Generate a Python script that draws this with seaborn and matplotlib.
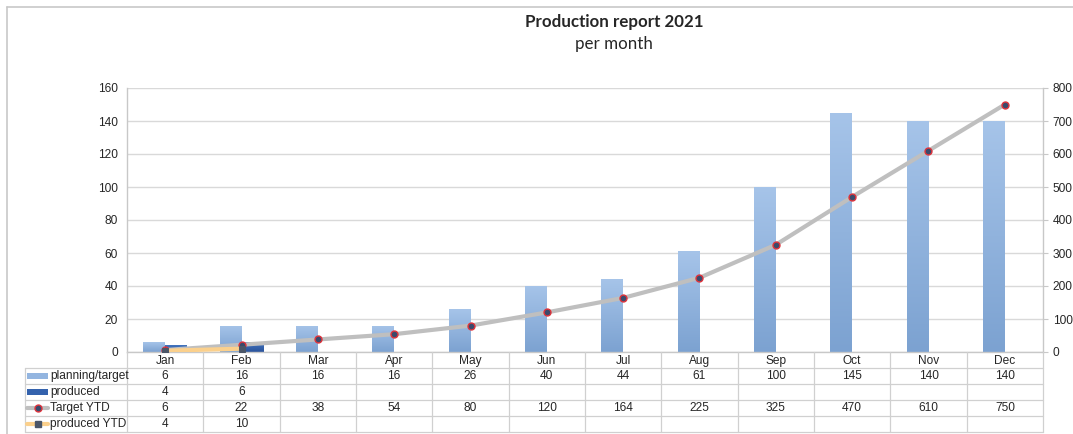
import numpy as np
import pandas as pd
import matplotlib
matplotlib.use("Agg")
import matplotlib.pyplot as plt
import seaborn as sns
from matplotlib.transforms import blended_transform_factory
from matplotlib.lines import Line2D
from matplotlib.patches import Rectangle
from matplotlib.colors import to_rgb

# ---- data -------------------------------------------------------------
months = ["Jan", "Feb", "Mar", "Apr", "May", "Jun",
          "Jul", "Aug", "Sep", "Oct", "Nov", "Dec"]
planning = [6, 16, 16, 16, 26, 40, 44, 61, 100, 145, 140, 140]
produced = [4, 6] + [np.nan] * 10
target_ytd = [6, 22, 38, 54, 80, 120, 164, 225, 325, 470, 610, 750]
produced_ytd = [4, 10] + [np.nan] * 10
series_names = ["planning/target", "produced", "Target YTD", "produced YTD"]

# ---- style --------------------------------------------------------------
sns.set_style("white")
plt.rcParams["font.family"] = ["Liberation Sans", "DejaVu Sans"]

C_PLAN = "#93b5e0"
C_PROD = "#3462ad"
GRAD = {C_PLAN: ("#a6c4e9", "#7ca2d1"), C_PROD: ("#4274bf", "#2a539b")}
C_TARGET = "#bfbfbf"
C_PYTD = "#fbd08c"
GRID = "#d9d9d9"
FRAME = "#c8c8c8"
FS = 8.6

W, H = 1073, 434
fig = plt.figure(figsize=(W / 100, H / 100), dpi=100)


def fx(px):
    return px / W


def fy(py):
    return 1 - py / H


ax = fig.add_axes([fx(127), fy(352), fx(1043) - fx(127), fy(88) - fy(352)])

# ---- bars -----------------------------------------------------------------
bars = pd.DataFrame({
    "month": months * 2,
    "series": [series_names[0]] * len(months) + [series_names[1]] * len(months),
    "value": planning + produced,
})
sns.barplot(data=bars, x="month", y="value", hue="series",
            hue_order=series_names[:2], palette=[C_PLAN, C_PROD],
            width=0.575, dodge=True, saturation=1, errorbar=None,
            legend=False, ax=ax)

# vertical gradient fill for every bar
for patch in list(ax.patches):
    h = patch.get_height()
    if not np.isfinite(h) or h <= 0:
        continue
    fc = matplotlib.colors.to_hex(patch.get_facecolor())
    top, bot = GRAD.get(fc, (fc, fc))
    t = np.linspace(0, 1, 128)[:, None, None]
    img = (1 - t) * np.array(to_rgb(top)) + t * np.array(to_rgb(bot))
    x0, w = patch.get_x(), patch.get_width()
    im = ax.imshow(img, extent=[x0, x0 + w, 0, h], origin="upper",
                   aspect="auto", zorder=1.5, interpolation="bilinear")
    im.set_clip_path(patch)
    patch.set_edgecolor("none")

ax.set_xlim(-0.5, len(months) - 0.5)
ax.set_ylim(0, 160)
ax.set_yticks(np.arange(0, 161, 20))
ax.set_xlabel("")
ax.set_ylabel("")
ax.yaxis.grid(True, color=GRID, lw=1)
ax.set_axisbelow(True)
for s in ("top", "right"):
    ax.spines[s].set_visible(False)
for s in ("left", "bottom"):
    ax.spines[s].set_color(FRAME)
    ax.spines[s].set_linewidth(1)
ax.tick_params(axis="y", length=0, pad=6.5, labelsize=FS)
ax.tick_params(axis="x", length=0, pad=2.3, labelsize=FS)

# ---- cumulative lines on secondary axis -----------------------------------
ax2 = ax.twinx()
pos = np.arange(len(months))
sns.lineplot(x=pos, y=target_ytd, ax=ax2, color=C_TARGET, lw=3,
             marker="o", markersize=5, markerfacecolor="#3b4a6c",
             markeredgecolor="#e0343c", markeredgewidth=1, zorder=3)
sns.lineplot(x=pos[:2], y=produced_ytd[:2], ax=ax2, color=C_PYTD, lw=3,
             marker="s", markersize=4.5, markerfacecolor="#4b5668",
             markeredgecolor="#4b5668", zorder=4)
ax2.set_xlim(-0.5, len(months) - 0.5)
ax2.set_ylim(0, 800)
ax2.set_yticks(np.arange(0, 801, 100))
ax2.set_xlabel("")
ax2.set_ylabel("")
for s in ("top", "left", "bottom"):
    ax2.spines[s].set_visible(False)
ax2.spines["right"].set_color(FRAME)
ax2.spines["right"].set_linewidth(1)
ax2.tick_params(axis="y", length=3.6, color=FRAME, pad=3.5, labelsize=FS)

# ---- data table -----------------------------------------------------------
bt = blended_transform_factory(ax.transData, fig.transFigure)
row_y = [376, 392, 408, 424]
line_kw = dict(color="#d0d0d0", lw=0.9)

for py in (368, 384, 400, 416, 432):
    fig.add_artist(Line2D([fx(25), fx(1043)], [fy(py), fy(py)],
                          transform=fig.transFigure, **line_kw))
for b in np.arange(len(months) + 1) - 0.5:
    fig.add_artist(Line2D([b, b], [fy(352), fy(432)], transform=bt, **line_kw))
fig.add_artist(Line2D([fx(25), fx(25)], [fy(368), fy(432)],
                      transform=fig.transFigure, **line_kw))

rows = [planning, produced, target_ytd, produced_ytd]
for r, vals in enumerate(rows):
    for i, v in enumerate(vals):
        if np.isfinite(v):
            fig.text(i, fy(row_y[r]), f"{v:g}", transform=bt,
                     ha="center", va="center", fontsize=FS)
    fig.text(fx(50), fy(row_y[r]), series_names[r], ha="left",
             va="center", fontsize=FS)

# legend keys in the row headers
fig.add_artist(Rectangle((fx(27), fy(row_y[0] + 3)), fx(21), 6 / H,
                         transform=fig.transFigure, color=C_PLAN, lw=0))
fig.add_artist(Rectangle((fx(27), fy(row_y[1] + 3)), fx(21), 6 / H,
                         transform=fig.transFigure, color=C_PROD, lw=0))
fig.add_artist(Line2D([fx(27), fx(48)], [fy(row_y[2])] * 2,
                      transform=fig.transFigure, color=C_TARGET, lw=3))
fig.add_artist(Line2D([fx(37.5)], [fy(row_y[2])], transform=fig.transFigure,
                      marker="o", markersize=5, markerfacecolor="#3b4a6c",
                      markeredgecolor="#e0343c", markeredgewidth=1, lw=0))
fig.add_artist(Line2D([fx(27), fx(48)], [fy(row_y[3])] * 2,
                      transform=fig.transFigure, color=C_PYTD, lw=3))
fig.add_artist(Line2D([fx(37.5)], [fy(row_y[3])], transform=fig.transFigure,
                      marker="s", markersize=4.5, markerfacecolor="#4b5668",
                      markeredgecolor="#4b5668", lw=0))

# ---- chart frame and titles ---------------------------------------------
fig.add_artist(Line2D([fx(7), fx(W)], [fy(7), fy(7)],
                      transform=fig.transFigure, color=FRAME, lw=1.2))
fig.add_artist(Line2D([fx(7), fx(7)], [fy(7), fy(H)],
                      transform=fig.transFigure, color=FRAME, lw=1.2))

fig.text(fx(614), fy(22), "Production report 2021", ha="center",
         va="center", fontsize=12.2, fontweight="bold", family="Lato")
fig.text(fx(614), fy(44), "per month", ha="center", va="center",
         fontsize=12.2, family="Lato")

fig.savefig("out.png", dpi=100)
